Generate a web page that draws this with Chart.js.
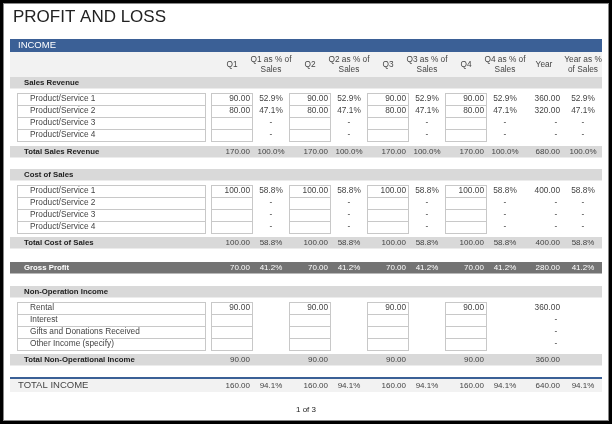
<!DOCTYPE html><html><head><meta charset="utf-8">
<script src="https://cdn.jsdelivr.net/npm/chart.js@4"></script>
<style>html,body{margin:0;padding:0;background:#fff}#w{width:612px;height:424px}</style></head><body>
<div id="w"><canvas id="c"></canvas></div>
<script>
// ---- data ----
const title = "PROFIT AND LOSS";
const headers = ["Q1","Q1 as % of|Sales","Q2","Q2 as % of|Sales","Q3","Q3 as % of|Sales","Q4","Q4 as % of|Sales","Year","Year as %|of Sales"];
const salesLabels = ["Product/Service 1","Product/Service 2","Product/Service 3","Product/Service 4"];
const salesQ = [90,80,null,null];        // same each quarter
const salesPct = ["52.9%","47.1%","-","-"];
const salesYear = [360,320,null,null];
const totalSales = {q:170, pct:"100.0%", year:680};
const costLabels = ["Product/Service 1","Product/Service 2","Product/Service 3","Product/Service 4"];
const costQ = [100,null,null,null];
const costPct = ["58.8%","-","-","-"];
const costYear = [400,null,null,null];
const totalCost = {q:100, pct:"58.8%", year:400};
const gross = {q:70, pct:"41.2%", year:280};
const nonOpLabels = ["Rental","Interest","Gifts and Donations Received","Other Income (specify)"];
const nonOpQ = [90,null,null,null];
const nonOpYear = [360,null,null,null];
const totalNonOp = {q:90, year:360};
const totalIncome = {q:160, pct:"94.1%", year:640};

// ---- layout (not data) ----
const qRight=[250,328,406,484], pctC=[271,349,427,505], yearRight=560, yearPctC=583;
const hdrC=[232,271,310,349,388,427,466,505,544,583];
const boxX=[[211,252],[289,330],[367,408],[445,486]];
const F="'Liberation Sans', Arial, sans-serif";
const fmt=v=>v==null?"":v.toFixed(2);

const sheet={id:'sheet',afterDraw(ch){
 const c=ch.ctx,xs=ch.scales.x,ys=ch.scales.y;
 const X=v=>xs.getPixelForValue(v),Y=v=>ys.getPixelForValue(v);
 const rect=(x0,y0,x1,y1,f)=>{c.fillStyle=f;c.fillRect(X(x0),Y(y0),X(x1)-X(x0),Y(y1)-Y(y0));};
 const box=(x0,y0,x1,y1)=>{c.strokeStyle="#c8c8c8";c.lineWidth=1;c.fillStyle="#fff";c.fillRect(X(x0)+.5,Y(y0)+.5,X(x1)-X(x0),Y(y1)-Y(y0));c.strokeRect(X(x0)+.5,Y(y0)+.5,X(x1)-X(x0),Y(y1)-Y(y0));};
 const txt=(s,x,y,al,font,col)=>{c.font=font||("8.3px "+F);c.fillStyle=col||"#444";c.textAlign=al||"left";c.textBaseline="middle";c.fillText(s,X(x),Y(y));};
 c.save();
 rect(0,0,612,424,"#fff");
 txt(title,13,17,"left","17px "+F,"#222");
 rect(10,39,602,52,"#3b6096");
 txt("INCOME",18,45.5,"left","9.5px "+F,"#fff");
 rect(10,52,602,77,"#f2f2f2");
 headers.forEach((h,i)=>{const p=h.split("|");if(p.length==1)txt(p[0],hdrC[i],64.5,"center");else{txt(p[0],hdrC[i],59.5,"center");txt(p[1],hdrC[i],69.5,"center");}});
 const band=(y0,label,col,tcol,bold)=>{rect(10,y0,602,y0+11.5,col);txt(label,24,y0+6,"left",(bold?"bold ":"")+"7.8px "+F,tcol);};
 const section=(top,labels,q,pct,yr)=>{
  box(17,top,205,top+48);
  labels.forEach((l,i)=>{const y=top+6+i*12;if(i>0){c.strokeStyle="#c8c8c8";c.beginPath();c.moveTo(X(17),Y(top+i*12)+.5);c.lineTo(X(205),Y(top+i*12)+.5);c.stroke();}
   txt(l,30,y,"left");});
  boxX.forEach((b,k)=>{for(let i=0;i<4;i++)box(b[0],top+i*12,b[1],top+i*12+12);});
  labels.forEach((l,i)=>{const y=top+6+i*12;
   for(let k=0;k<4;k++){txt(fmt(q[i]),qRight[k],y,"right");if(pct)txt(pct[i],pctC[k],y,"center");}
   txt(yr[i]==null?"-":fmt(yr[i]),yr[i]==null?556:yearRight,y,yr[i]==null?"center":"right");
   if(pct)txt(pct[i],yearPctC,y,"center");});
 };
 const totals=(y,t,col)=>{for(let k=0;k<4;k++){txt(fmt(t.q),qRight[k],y,"right","8px "+F,col);if(t.pct)txt(t.pct,pctC[k],y,"center","8px "+F,col);}
  txt(fmt(t.year),yearRight,y,"right","8px "+F,col);if(t.pct)txt(t.pct,yearPctC,y,"center","8px "+F,col);};
 band(77,"Sales Revenue","#d9d9d9","#222",true);
 section(93,salesLabels,salesQ,salesPct,salesYear);
 band(146,"Total Sales Revenue","#d9d9d9","#222",true); totals(152,totalSales,"#444");
 band(169,"Cost of Sales","#d9d9d9","#222",true);
 section(185,costLabels,costQ,costPct,costYear);
 band(237,"Total Cost of Sales","#d9d9d9","#222",true); totals(243,totalCost,"#444");
 band(262,"Gross Profit","#737373","#fff",true); totals(268,gross,"#fff");
 band(286,"Non-Operation Income","#d9d9d9","#222",true);
 section(302,nonOpLabels,nonOpQ,null,nonOpYear);
 band(354,"Total Non-Operational Income","#d9d9d9","#222",true); totals(360,totalNonOp,"#444");
 rect(10,377,602,379,"#3b6096");
 rect(10,379,602,392,"#f2f2f2");
 txt("TOTAL INCOME",18,385.5,"left","9.5px "+F,"#444"); totals(385.5,totalIncome,"#444");
 txt("1 of 3",306,410,"center","8px "+F,"#222");
 c.strokeStyle="#000";c.lineWidth=3;c.strokeRect(X(0)+1.5,Y(0)+1.5,X(612)-X(0)-3,Y(424)-Y(0)-3);
 c.strokeStyle="#888";c.lineWidth=1;c.strokeRect(X(0)+3.5,Y(0)+3.5,X(612)-X(0)-7,Y(424)-Y(0)-7);
 c.restore();
}};
new Chart(document.getElementById('c'),{type:'scatter',data:{datasets:[{data:[],pointRadius:0}]},
 options:{responsive:true,maintainAspectRatio:false,animation:false,layout:{padding:0},
 plugins:{legend:{display:false},tooltip:{enabled:false}},
 scales:{x:{type:'linear',min:0,max:612,display:false},y:{type:'linear',min:0,max:424,reverse:true,display:false}}},
 plugins:[sheet]});
</script></body></html>
